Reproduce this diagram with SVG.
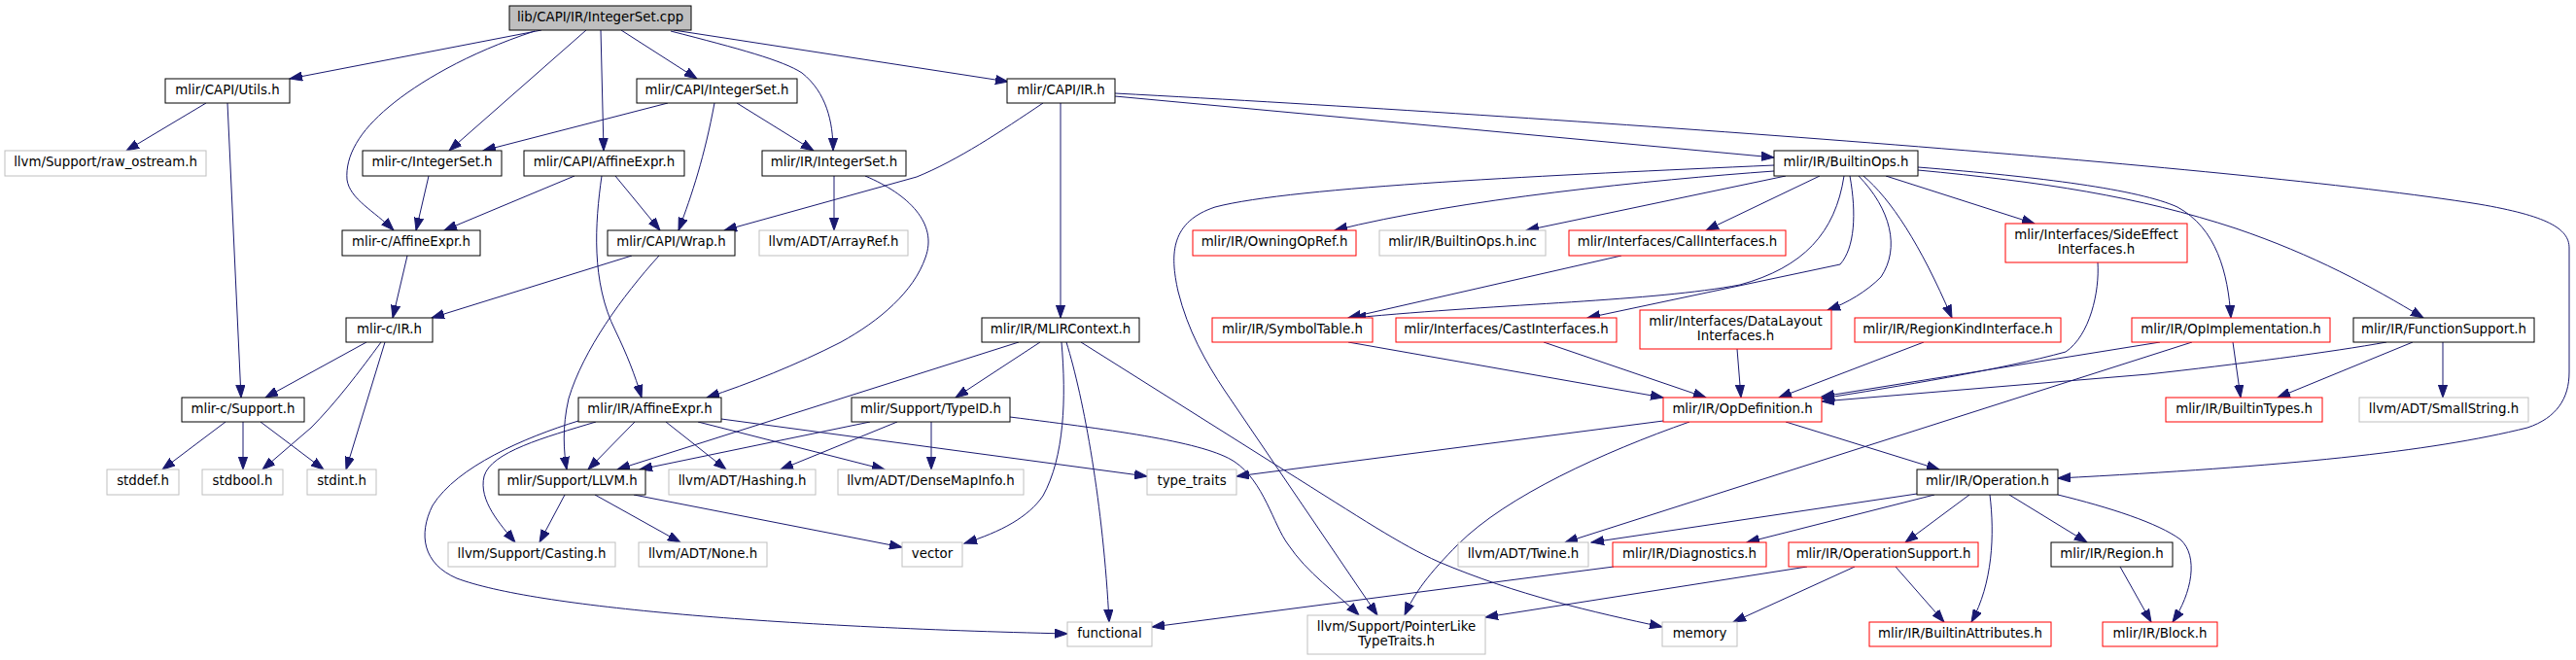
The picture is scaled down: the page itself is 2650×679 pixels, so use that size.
<svg xmlns="http://www.w3.org/2000/svg" width="2650" height="679" viewBox="0 0 2650 679">
<defs>
<style>
.nd rect{fill:#ffffff;stroke:#000000;stroke-width:1}
.root rect{fill:#bfbfbf;stroke:#000000;stroke-width:1}
.gr rect{fill:#ffffff;stroke:#bfbfbf;stroke-width:1}
.rd rect{fill:#ffffff;stroke:#ff0000;stroke-width:1}
text{font-family:"DejaVu Sans","Liberation Sans",sans-serif;font-size:13.33px;text-anchor:middle;fill:#000000}
#edges path{fill:none;stroke:#191970;stroke-width:1;marker-end:url(#arr)}
</style>
<marker id="arr" markerUnits="userSpaceOnUse" markerWidth="14" markerHeight="10" viewBox="0 0 14 10" refX="13" refY="5" orient="auto">
<path d="M0,0.4 L13,5 L0,9.6 z" fill="#191970" stroke="#191970" stroke-width="1"/>
</marker>
</defs>
<rect x="0" y="0" width="2650" height="679" fill="#ffffff"/>
<g id="edges">
<path d="M557,31 L298,81"/>
<path d="M550,32 C480,55 430,85 400,110 C370,135 355,160 357,185 C360,205 385,217 405,237"/>
<path d="M603,31 L462,155"/>
<path d="M618,31 L621,155"/>
<path d="M639,31 L717,81"/>
<path d="M690,32 C760,50 805,62 825,75 C850,95 857,125 857,155"/>
<path d="M693,31 L1037,84"/>
<path d="M212,106 L130,155"/>
<path d="M234,106 L248,409"/>
<path d="M441,181 L428,237"/>
<path d="M419,263 L404,327"/>
<path d="M377,352 L273,409"/>
<path d="M392,352 C370,382 345,415 320,440 L270,483"/>
<path d="M396,352 L356,483"/>
<path d="M232,434 L167,483"/>
<path d="M250,434 L250,483"/>
<path d="M268,434 L333,483"/>
<path d="M687,106 L497,155"/>
<path d="M735,106 C725,160 712,200 698,237"/>
<path d="M758,106 L837,155"/>
<path d="M591,181 L457,237"/>
<path d="M633,181 L679,237"/>
<path d="M619,181 C612,230 608,290 633,340 C645,365 653,385 660,409"/>
<path d="M650,263 L444,327"/>
<path d="M678,263 C640,305 600,360 585,410 C578,440 580,465 583,483"/>
<path d="M858,181 L858,237"/>
<path d="M890,181 C935,200 965,230 952,265 C940,300 905,330 865,352 C820,375 770,395 727,409"/>
<path d="M1073,106 C1030,135 985,165 943,182 L745,237"/>
<path d="M1091,106 L1091,327"/>
<path d="M1147,99 L1825,162"/>
<path d="M1147,96 C1600,120 2300,170 2550,210 C2620,222 2643,235 2643,255 L2643,383 C2643,410 2630,430 2600,440 C2500,465 2350,480 2117,492"/>
<path d="M1048,352 L635,483"/>
<path d="M1070,352 L983,409"/>
<path d="M1092,352 C1097,410 1095,470 1073,510 C1058,532 1030,547 992,559"/>
<path d="M1097,352 C1115,410 1135,520 1141,640"/>
<path d="M1112,352 L1320,483 C1400,533 1440,560 1480,578 C1560,612 1640,630 1710,645"/>
<path d="M895,434 L658,483"/>
<path d="M923,434 L803,483"/>
<path d="M958,434 L958,483"/>
<path d="M1039,429 C1150,443 1240,455 1270,475 C1300,495 1310,540 1325,560 C1345,590 1375,610 1398,633"/>
<path d="M653,434 L605,483"/>
<path d="M685,434 L747,483"/>
<path d="M718,434 L910,483"/>
<path d="M742,431 L1180,490"/>
<path d="M613,434 C560,450 505,465 498,490 C492,515 515,540 530,558"/>
<path d="M595,433 C540,450 470,480 445,520 C430,550 435,580 470,595 C550,625 800,645 1098,652"/>
<path d="M581,509 L555,558"/>
<path d="M612,509 L700,558"/>
<path d="M652,509 L928,563"/>
<path d="M1825,170 C1600,180 1330,192 1250,213 C1205,228 1203,260 1212,300 C1222,340 1240,372 1260,402 L1417,633"/>
<path d="M1825,176 C1700,185 1500,205 1373,237"/>
<path d="M1837,181 L1570,237"/>
<path d="M1872,181 L1755,237"/>
<path d="M1897,181 C1888,240 1855,275 1790,293 C1700,310 1550,312 1392,327"/>
<path d="M1903,181 C1910,220 1908,255 1893,272 L1633,327"/>
<path d="M1912,181 C1945,215 1955,255 1935,285 C1920,300 1900,312 1880,319"/>
<path d="M1917,181 C1945,205 1975,250 2008,327"/>
<path d="M1940,181 L2093,230"/>
<path d="M1973,172 C2100,182 2200,195 2240,213 C2280,235 2292,280 2295,327"/>
<path d="M1973,175 C2100,187 2200,202 2300,235 C2380,262 2440,295 2493,327"/>
<path d="M1668,263 L1387,327"/>
<path d="M2158,270 C2160,300 2150,345 2125,362 C2060,380 1950,398 1874,410"/>
<path d="M1387,352 L1711,409"/>
<path d="M1588,352 L1755,409"/>
<path d="M1787,359 L1791,409"/>
<path d="M1979,352 L1830,409"/>
<path d="M2222,352 L1874,408"/>
<path d="M2255,352 L1610,558"/>
<path d="M2455,352 C2400,362 2300,375 2210,385 L1874,413"/>
<path d="M2297,352 L2305,409"/>
<path d="M2482,352 L2343,409"/>
<path d="M2513,352 L2513,409"/>
<path d="M1837,434 L1995,483"/>
<path d="M1711,433 L1272,490"/>
<path d="M1738,434 C1650,465 1550,510 1500,560 C1470,590 1455,610 1445,633"/>
<path d="M1972,508 L1637,558"/>
<path d="M1990,509 L1797,558"/>
<path d="M2026,509 L1960,558"/>
<path d="M2047,509 C2052,550 2050,600 2028,640"/>
<path d="M2067,509 L2147,558"/>
<path d="M2117,509 C2170,522 2220,538 2243,555 C2262,572 2255,610 2235,640"/>
<path d="M1859,583 L1528,635"/>
<path d="M1908,583 L1783,640"/>
<path d="M1950,583 L2000,640"/>
<path d="M1660,583 L1185,645"/>
<path d="M2181,583 L2213,640"/>
</g>
<g id="n_root" class="root"><rect x="524" y="6" width="187" height="25"/><text x="617.5" y="22">lib/CAPI/IR/IntegerSet.cpp</text></g>
<g id="n_utils" class="nd"><rect x="170" y="81" width="128" height="25"/><text x="234" y="97">mlir/CAPI/Utils.h</text></g>
<g id="n_rawos" class="gr"><rect x="5" y="155" width="207" height="26"/><text x="108.5" y="171">llvm/Support/raw_ostream.h</text></g>
<g id="n_csupport" class="nd"><rect x="187" y="409" width="126" height="25"/><text x="250" y="425">mlir-c/Support.h</text></g>
<g id="n_stddef" class="gr"><rect x="110" y="483" width="74" height="26"/><text x="147" y="499">stddef.h</text></g>
<g id="n_stdbool" class="gr"><rect x="208" y="483" width="83" height="26"/><text x="249.5" y="499">stdbool.h</text></g>
<g id="n_stdint" class="gr"><rect x="316" y="483" width="71" height="26"/><text x="351.5" y="499">stdint.h</text></g>
<g id="n_cintset" class="nd"><rect x="373" y="155" width="143" height="26"/><text x="444.5" y="171">mlir-c/IntegerSet.h</text></g>
<g id="n_caffine" class="nd"><rect x="352" y="237" width="142" height="26"/><text x="423" y="253">mlir-c/AffineExpr.h</text></g>
<g id="n_cir" class="nd"><rect x="356" y="327" width="89" height="25"/><text x="400.5" y="343">mlir-c/IR.h</text></g>
<g id="n_capiintset" class="nd"><rect x="655" y="81" width="165" height="25"/><text x="737.5" y="97">mlir/CAPI/IntegerSet.h</text></g>
<g id="n_capiaffine" class="nd"><rect x="539" y="155" width="165" height="26"/><text x="621.5" y="171">mlir/CAPI/AffineExpr.h</text></g>
<g id="n_irintset" class="nd"><rect x="784" y="155" width="148" height="26"/><text x="858" y="171">mlir/IR/IntegerSet.h</text></g>
<g id="n_wrap" class="nd"><rect x="625" y="237" width="131" height="26"/><text x="690.5" y="253">mlir/CAPI/Wrap.h</text></g>
<g id="n_arrayref" class="gr"><rect x="781" y="237" width="153" height="26"/><text x="857.5" y="253">llvm/ADT/ArrayRef.h</text></g>
<g id="n_iraffine" class="nd"><rect x="595" y="409" width="147" height="25"/><text x="668.5" y="425">mlir/IR/AffineExpr.h</text></g>
<g id="n_llvm" class="nd"><rect x="513" y="483" width="151" height="26"/><text x="588.5" y="499">mlir/Support/LLVM.h</text></g>
<g id="n_hashing" class="gr"><rect x="688" y="483" width="151" height="26"/><text x="763.5" y="499">llvm/ADT/Hashing.h</text></g>
<g id="n_densemap" class="gr"><rect x="862" y="483" width="191" height="26"/><text x="957.5" y="499">llvm/ADT/DenseMapInfo.h</text></g>
<g id="n_casting" class="gr"><rect x="461" y="558" width="172" height="25"/><text x="547" y="574">llvm/Support/Casting.h</text></g>
<g id="n_none" class="gr"><rect x="657" y="558" width="132" height="25"/><text x="723" y="574">llvm/ADT/None.h</text></g>
<g id="n_capiir" class="nd"><rect x="1036" y="81" width="111" height="25"/><text x="1091.5" y="97">mlir/CAPI/IR.h</text></g>
<g id="n_mlirctx" class="nd"><rect x="1010" y="327" width="162" height="25"/><text x="1091" y="343">mlir/IR/MLIRContext.h</text></g>
<g id="n_typeid" class="nd"><rect x="876" y="409" width="163" height="25"/><text x="957.5" y="425">mlir/Support/TypeID.h</text></g>
<g id="n_typetraits" class="gr"><rect x="1180" y="483" width="92" height="26"/><text x="1226" y="499">type_traits</text></g>
<g id="n_vector" class="gr"><rect x="928" y="558" width="62" height="25"/><text x="959" y="574">vector</text></g>
<g id="n_functional" class="gr"><rect x="1098" y="640" width="87" height="25"/><text x="1141.5" y="656">functional</text></g>
<g id="n_builtinops" class="nd"><rect x="1825" y="155" width="148" height="26"/><text x="1899" y="171">mlir/IR/BuiltinOps.h</text></g>
<g id="n_owning" class="rd"><rect x="1227" y="237" width="168" height="26"/><text x="1311" y="253">mlir/IR/OwningOpRef.h</text></g>
<g id="n_opsinc" class="gr"><rect x="1419" y="237" width="171" height="26"/><text x="1504.5" y="253">mlir/IR/BuiltinOps.h.inc</text></g>
<g id="n_callif" class="rd"><rect x="1614" y="237" width="223" height="26"/><text x="1725.5" y="253">mlir/Interfaces/CallInterfaces.h</text></g>
<g id="n_sideeff" class="rd"><rect x="2063" y="230" width="187" height="40"/><text x="2156.5" y="246">mlir/Interfaces/SideEffect</text><text x="2156.5" y="260.5">Interfaces.h</text></g>
<g id="n_symtab" class="rd"><rect x="1247" y="327" width="165" height="25"/><text x="1329.5" y="343">mlir/IR/SymbolTable.h</text></g>
<g id="n_castif" class="rd"><rect x="1436" y="327" width="227" height="25"/><text x="1549.5" y="343">mlir/Interfaces/CastInterfaces.h</text></g>
<g id="n_datalayout" class="rd"><rect x="1687" y="319" width="197" height="40"/><text x="1785.5" y="335">mlir/Interfaces/DataLayout</text><text x="1785.5" y="349.5">Interfaces.h</text></g>
<g id="n_regionkind" class="rd"><rect x="1908" y="327" width="212" height="25"/><text x="2014" y="343">mlir/IR/RegionKindInterface.h</text></g>
<g id="n_opimpl" class="rd"><rect x="2193" y="327" width="204" height="25"/><text x="2295" y="343">mlir/IR/OpImplementation.h</text></g>
<g id="n_funcsupp" class="nd"><rect x="2421" y="327" width="186" height="25"/><text x="2514" y="343">mlir/IR/FunctionSupport.h</text></g>
<g id="n_opdef" class="rd"><rect x="1711" y="409" width="163" height="25"/><text x="1792.5" y="425">mlir/IR/OpDefinition.h</text></g>
<g id="n_builtintypes" class="rd"><rect x="2228" y="409" width="161" height="25"/><text x="2308.5" y="425">mlir/IR/BuiltinTypes.h</text></g>
<g id="n_smallstr" class="gr"><rect x="2427" y="409" width="174" height="25"/><text x="2514" y="425">llvm/ADT/SmallString.h</text></g>
<g id="n_operation" class="nd"><rect x="1972" y="483" width="145" height="26"/><text x="2044.5" y="499">mlir/IR/Operation.h</text></g>
<g id="n_twine" class="gr"><rect x="1500" y="558" width="134" height="25"/><text x="1567" y="574">llvm/ADT/Twine.h</text></g>
<g id="n_diag" class="rd"><rect x="1659" y="558" width="158" height="25"/><text x="1738" y="574">mlir/IR/Diagnostics.h</text></g>
<g id="n_opsupport" class="rd"><rect x="1840" y="558" width="195" height="25"/><text x="1937.5" y="574">mlir/IR/OperationSupport.h</text></g>
<g id="n_region" class="nd"><rect x="2110" y="558" width="125" height="25"/><text x="2172.5" y="574">mlir/IR/Region.h</text></g>
<g id="n_ptrlike" class="gr"><rect x="1345" y="633" width="183" height="40"/><text x="1436.5" y="649">llvm/Support/PointerLike</text><text x="1436.5" y="663.5">TypeTraits.h</text></g>
<g id="n_memory" class="gr"><rect x="1710" y="640" width="77" height="25"/><text x="1748.5" y="656">memory</text></g>
<g id="n_builtinattr" class="rd"><rect x="1923" y="640" width="187" height="25"/><text x="2016.5" y="656">mlir/IR/BuiltinAttributes.h</text></g>
<g id="n_block" class="rd"><rect x="2163" y="640" width="118" height="25"/><text x="2222" y="656">mlir/IR/Block.h</text></g>
</svg>
